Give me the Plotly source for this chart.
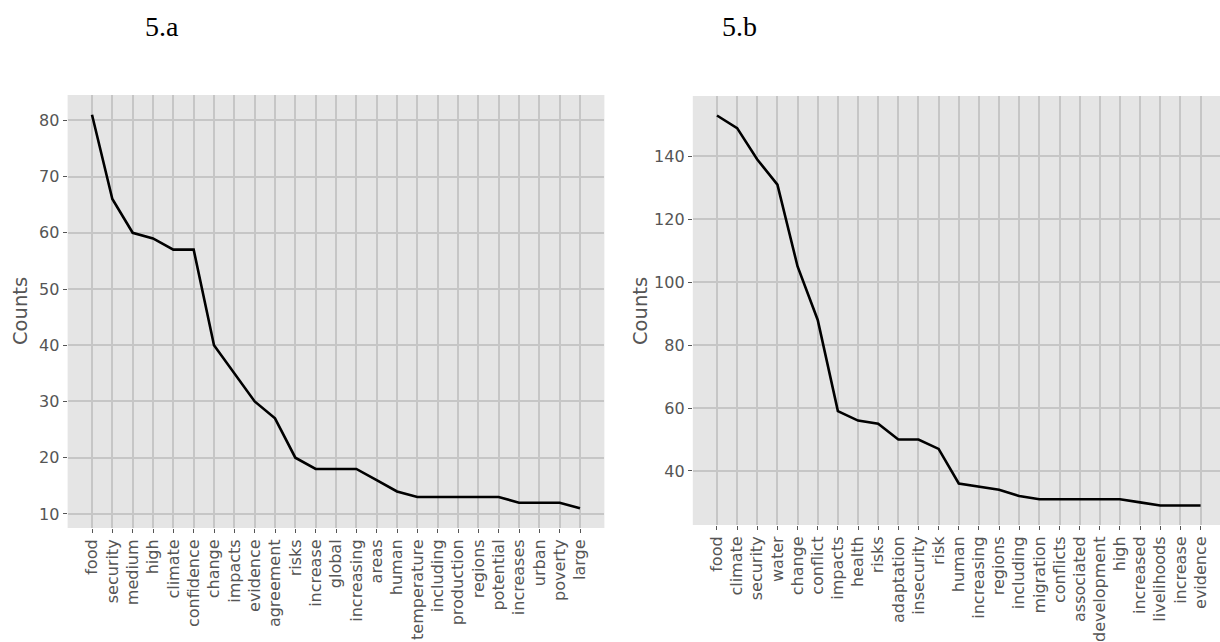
import plotly.graph_objects as go

# Word frequencies, panel 5.a
words_a = ["food", "security", "medium", "high", "climate", "confidence", "change",
           "impacts", "evidence", "agreement", "risks", "increase", "global",
           "increasing", "areas", "human", "temperature", "including", "production",
           "regions", "potential", "increases", "urban", "poverty", "large"]
counts_a = [81, 66, 60, 59, 57, 57, 40, 35, 30, 27, 20, 18, 18, 18, 16, 14, 13,
            13, 13, 13, 13, 12, 12, 12, 11]

# Word frequencies, panel 5.b
words_b = ["food", "climate", "security", "water", "change", "conflict", "impacts",
           "health", "risks", "adaptation", "insecurity", "risk", "human",
           "increasing", "regions", "including", "migration", "conflicts",
           "associated", "development", "high", "increased", "livelihoods",
           "increase", "evidence"]
counts_b = [153, 149, 139, 131, 105, 88, 59, 56, 55, 50, 50, 47, 36, 35, 34, 32,
            31, 31, 31, 31, 31, 30, 29, 29, 29]

yticks_a = [10, 20, 30, 40, 50, 60, 70, 80]
yticks_b = [40, 60, 80, 100, 120, 140]

W, H = 1220, 642
BG = "#E5E5E5"
GRID = "#C6C6C6"
TICK = "#555555"
tick_font = dict(family="DejaVu Sans", size=16, color=TICK)


def padded(vals, frac=0.05):
    lo, hi = min(vals), max(vals)
    d = (hi - lo) * frac
    return [lo - d, hi + d]


fig = go.Figure()
fig.add_trace(go.Scatter(x=list(range(len(words_a))), y=counts_a, mode="lines",
                         line=dict(color="black", width=2.6),
                         xaxis="x", yaxis="y", showlegend=False))
fig.add_trace(go.Scatter(x=list(range(len(words_b))), y=counts_b, mode="lines",
                         line=dict(color="black", width=2.6),
                         xaxis="x2", yaxis="y2", showlegend=False))

common_x = dict(tickmode="array", tickangle=-90, ticks="outside", ticklen=4,
                tickwidth=1, tickcolor=TICK, tickfont=tick_font,
                showgrid=True, gridcolor=GRID, gridwidth=1.6,
                zeroline=False, showline=False)
common_y = dict(tickmode="array", ticks="outside", ticklen=4, tickwidth=1,
                tickcolor=TICK, tickfont=tick_font, showgrid=True,
                gridcolor=GRID, gridwidth=1.6, zeroline=False, showline=False)

fig.update_layout(
    width=W, height=H,
    margin=dict(l=0, r=0, t=0, b=0),
    paper_bgcolor="white",
    plot_bgcolor=BG,
    xaxis=dict(common_x, domain=[67.6 / W, 604.4 / W],
               range=[-1.2, len(words_a) - 1 + 1.2],
               tickvals=list(range(len(words_a))), ticktext=words_a,
               anchor="y"),
    yaxis=dict(common_y, domain=[1 - 528 / H, 1 - 95 / H],
               range=padded(counts_a), tickvals=yticks_a, anchor="x"),
    xaxis2=dict(common_x, domain=[692.8 / W, 1.0],
                range=[-1.2, -1.2 + (W - 692.8) / 20.15],
                tickvals=list(range(len(words_b))), ticktext=words_b,
                anchor="y2"),
    yaxis2=dict(common_y, domain=[1 - 525 / H, 1 - 96 / H],
                range=padded(counts_b), tickvals=yticks_b, anchor="x2"),
)

label_font = dict(family="DejaVu Sans", size=19.5, color=TICK)
fig.add_annotation(text="Counts", x=20 / W, y=1 - 311 / H, xref="paper",
                   yref="paper", textangle=-90, showarrow=False,
                   font=label_font, xanchor="center", yanchor="middle")
fig.add_annotation(text="Counts", x=640 / W, y=1 - 311 / H, xref="paper",
                   yref="paper", textangle=-90, showarrow=False,
                   font=label_font, xanchor="center", yanchor="middle")

title_font = dict(family="Liberation Serif", size=28, color="black")
fig.add_annotation(text="5.a", x=143 / W, y=1 - 26 / H, xref="paper",
                   yref="paper", showarrow=False, font=title_font,
                   xanchor="left", yanchor="middle")
fig.add_annotation(text="5.b", x=720 / W, y=1 - 26 / H, xref="paper",
                   yref="paper", showarrow=False, font=title_font,
                   xanchor="left", yanchor="middle")

fig.write_html("out.html")
